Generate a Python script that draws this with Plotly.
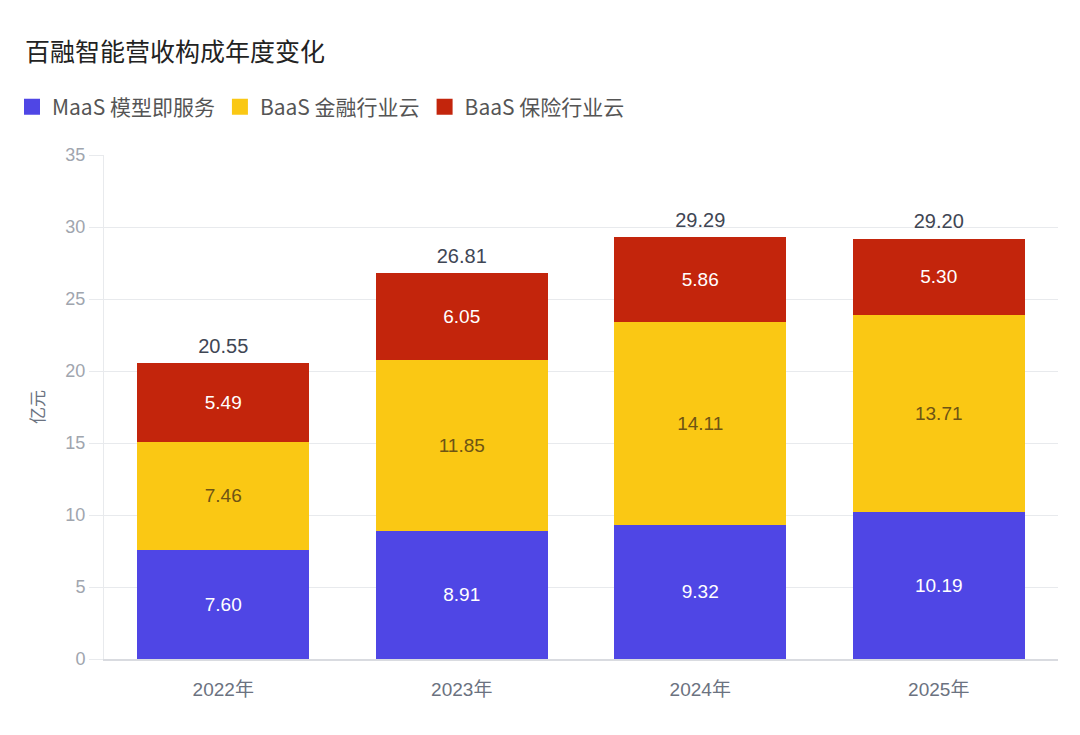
import plotly.graph_objects as go

years = ["2022年", "2023年", "2024年", "2025年"]
maas = [7.60, 8.91, 9.32, 10.19]
baas_fin = [7.46, 11.85, 14.11, 13.71]
baas_ins = [5.49, 6.05, 5.86, 5.30]
series_names = ["MaaS 模型即服务", "BaaS 金融行业云", "BaaS 保险行业云"]
colors = ["#4F46E5", "#FAC814", "#C3250C"]
label_colors = ["#FFFFFF", "#6E5414", "#FFFFFF"]

totals = [round(a + b + c, 2) for a, b, c in zip(maas, baas_fin, baas_ins)]

cjk = "Noto Sans CJK SC"
num_font = "Liberation Sans, Noto Sans CJK SC"

traces = []
for vals, name, color, txtcolor in zip(
    [maas, baas_fin, baas_ins], series_names, colors, label_colors
):
    traces.append(
        go.Bar(
            x=years,
            y=vals,
            name=name,
            showlegend=False,
            marker=dict(color=color, line=dict(width=0)),
            text=[f"{v:.2f}" for v in vals],
            textposition="inside",
            insidetextanchor="middle",
            textangle=0,
            textfont=dict(family=num_font, size=19, color=txtcolor),
            hoverinfo="skip",
        )
    )

# legend entries with bigger square swatches
for name, color in zip(series_names, colors):
    traces.append(
        go.Scatter(
            x=[None],
            y=[None],
            mode="markers",
            name=name,
            marker=dict(symbol="square", size=16, color=color),
        )
    )

# totals above the stacks (transparent marker pushes the text up)
traces.append(
    go.Scatter(
        x=years,
        y=totals,
        mode="markers+text",
        marker=dict(size=7, color="rgba(0,0,0,0)"),
        text=[f"{t:.2f}" for t in totals],
        textposition="top center",
        textfont=dict(family=num_font, size=20, color="#3F4654"),
        showlegend=False,
        hoverinfo="skip",
    )
)

layout = go.Layout(
    width=1080,
    height=735,
    barmode="stack",
    bargap=0.28,
    paper_bgcolor="white",
    plot_bgcolor="white",
    margin=dict(l=96, r=30, t=147, b=84),
    title=dict(
        text="百融智能营收构成年度变化",
        font=dict(family=cjk, size=25, color="#222222"),
        x=17 / 1080,
        xref="container",
        xanchor="left",
        y=1 - 44 / 735,
        yref="container",
        yanchor="middle",
    ),
    legend=dict(
        orientation="h",
        xref="container",
        yref="container",
        x=4 / 1080,
        xanchor="left",
        y=1 - 99 / 735,
        yanchor="middle",
        font=dict(family=cjk, size=21, color="#555555"),
        itemsizing="trace",
        traceorder="normal",
    ),
    font=dict(family=cjk),
)

fig = go.Figure(data=traces, layout=layout)

fig.update_xaxes(
    showgrid=False,
    showline=True,
    linecolor="#D9DBE0",
    linewidth=2,
    ticks="",
    ticklabelstandoff=12,
    tickfont=dict(family=num_font, size=19, color="#6B7280"),
)
fig.update_yaxes(
    range=[0, 35],
    dtick=5,
    showgrid=True,
    gridcolor="#E8EAED",
    gridwidth=1,
    zeroline=False,
    showline=True,
    linecolor="#E8EAED",
    ticks="outside",
    ticklen=14,
    tickcolor="#E8EAED",
    tickfont=dict(family=num_font, size=18, color="#A0A5AE"),
    title=dict(text="亿元", font=dict(family=cjk, size=17, color="#6B7280"), standoff=16),
)

fig.write_html("out.html")
